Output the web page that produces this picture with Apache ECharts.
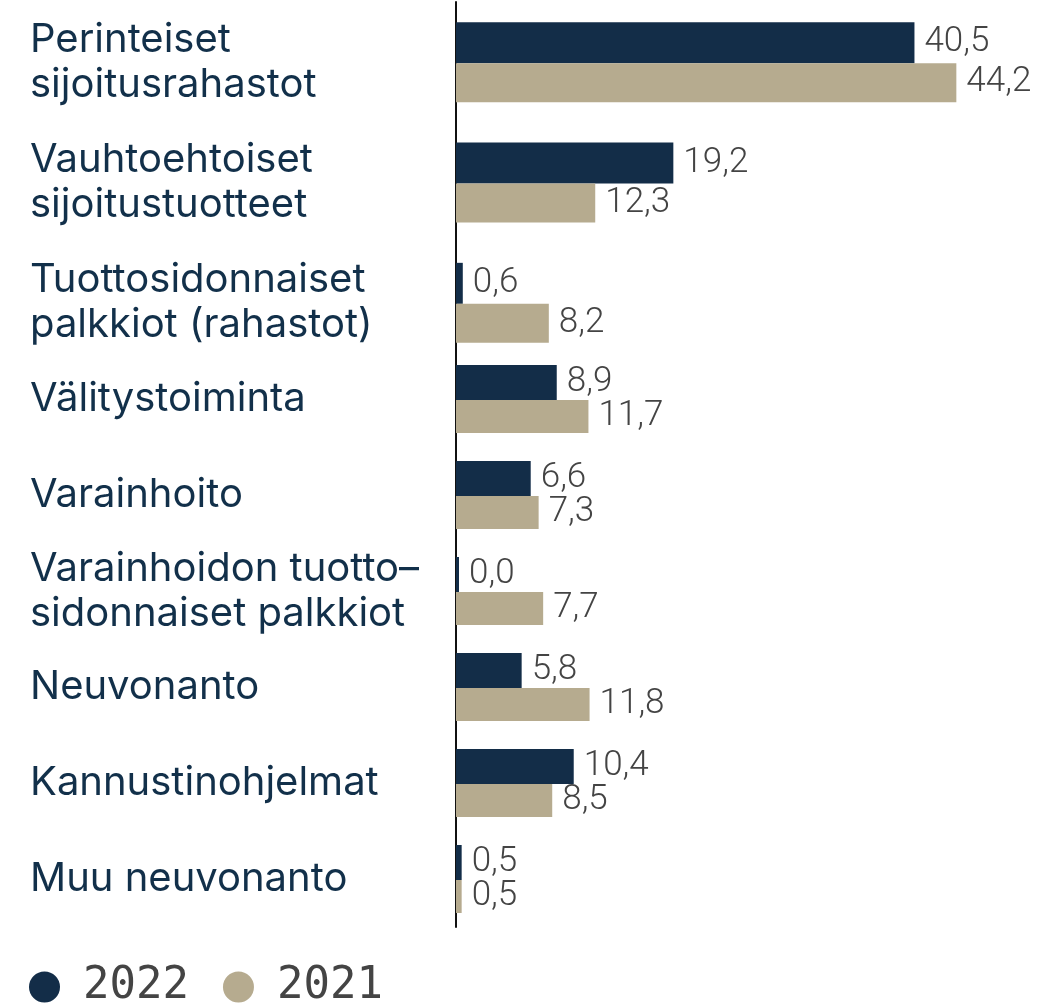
<!DOCTYPE html>
<html>
<head>
<meta charset="utf-8">
<script src="https://cdn.jsdelivr.net/npm/echarts@6/dist/echarts.min.js"></script>
<style>
  html, body { margin: 0; padding: 0; background: #fff; }
  #chart { width: 1041px; height: 1003px; }
</style>
</head>
<body>
<div id="chart"></div>
<script>
// data
const categories = [
  'Perinteiset\nsijoitusrahastot',
  'Vauhtoehtoiset\nsijoitustuotteet',
  'Tuottosidonnaiset\npalkkiot (rahastot)',
  'Välitystoiminta',
  'Varainhoito',
  'Varainhoidon tuotto–\nsidonnaiset palkkiot',
  'Neuvonanto',
  'Kannustinohjelmat',
  'Muu neuvonanto'
];
const values2022 = [40.5, 19.2, 0.6, 8.9, 6.6, 0.0, 5.8, 10.4, 0.5];
const values2021 = [44.2, 12.3, 8.2, 11.7, 7.3, 7.7, 11.8, 8.5, 0.5];
const years = ['2022', '2021'];
const colors = ['#132d48', '#b6ab8f'];

// first rows have two-line labels and get taller rows
const splitAt = 3;

const chart = echarts.init(document.getElementById('chart'), null, { renderer: 'canvas' });

const fmt = p => p.value.toFixed(1).replace('.', ',');

function yAxisFor(idx, cats) {
  return {
    type: 'category',
    gridIndex: idx,
    inverse: true,
    data: cats,
    axisLine: { show: true, lineStyle: { color: '#111', width: 2 } },
    axisTick: { show: false },
    axisLabel: {
      align: 'left',
      margin: 426,
      color: '#12304a',
      fontFamily: 'Inter',
      fontSize: 40,
      lineHeight: 45
    }
  };
}

function xAxisFor(idx) {
  return {
    type: 'value',
    gridIndex: idx,
    min: 0,
    max: 50,
    show: false
  };
}

function barSeries(name, data, idx, color, width) {
  return {
    type: 'bar',
    name: name,
    xAxisIndex: idx,
    yAxisIndex: idx,
    data: data,
    barWidth: width,
    barGap: '0%',
    barMinHeight: 3,
    itemStyle: { color: color },
    label: {
      show: true,
      position: 'right',
      distance: 10,
      formatter: fmt,
      color: '#444',
      fontFamily: 'Roboto',
      fontWeight: 300,
      fontSize: 35
    },
    animation: false
  };
}

const option = {
  backgroundColor: '#fff',
  animation: false,
  legend: {
    data: years,
    icon: 'circle',
    left: 29,
    top: 965,
    padding: 0,
    itemWidth: 31,
    itemHeight: 31,
    itemGap: 34,
    textStyle: {
      color: '#444',
      fontFamily: 'DejaVu Sans Mono',
      fontSize: 44,
      padding: [8, 0, 0, 18]
    }
  },
  grid: [
    { left: 456, width: 566, top: 2, height: 361 },
    { left: 456, width: 566, top: 351, height: 576 }
  ],
  xAxis: [xAxisFor(0), xAxisFor(1)],
  yAxis: [
    yAxisFor(0, categories.slice(0, splitAt)),
    yAxisFor(1, categories.slice(splitAt))
  ],
  series: [
    barSeries(years[0], values2022.slice(0, splitAt), 0, colors[0], 41),
    barSeries(years[1], values2021.slice(0, splitAt), 0, colors[1], 39),
    barSeries(years[0], values2022.slice(splitAt), 1, colors[0], 35),
    barSeries(years[1], values2021.slice(splitAt), 1, colors[1], 33)
  ]
};

chart.setOption(option);
</script>
</body>
</html>
